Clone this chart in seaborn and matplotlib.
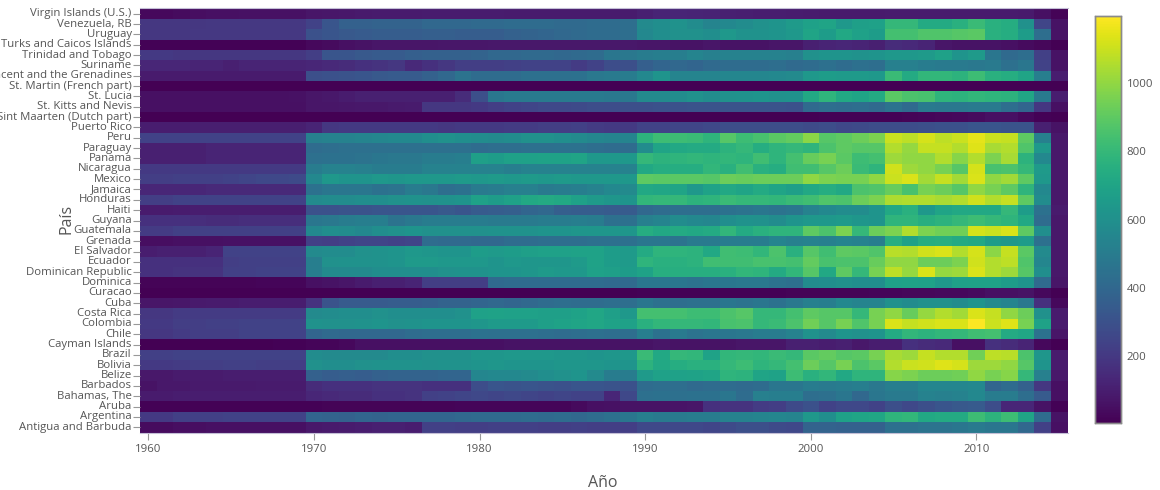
import pandas as pd
import seaborn as sns
import matplotlib.pyplot as plt

years = list(range(1960, 2016))

paises = ["Virgin Islands (U.S.)", "Venezuela, RB", "Uruguay", "Turks and Caicos Islands",
          "Trinidad and Tobago", "Suriname", "St. Vincent and the Grenadines",
          "St. Martin (French part)", "St. Lucia", "St. Kitts and Nevis",
          "Sint Maarten (Dutch part)", "Puerto Rico", "Peru", "Paraguay", "Panama",
          "Nicaragua", "Mexico", "Jamaica", "Honduras", "Haiti", "Guyana", "Guatemala",
          "Grenada", "El Salvador", "Ecuador", "Dominican Republic", "Dominica", "Curacao",
          "Cuba", "Costa Rica", "Colombia", "Chile", "Cayman Islands", "Brazil", "Bolivia",
          "Belize", "Barbados", "Bahamas, The", "Aruba", "Argentina", "Antigua and Barbuda"]

# una fila por pais: 1960-69 / 1970-89 / 1990-2004 / 2005-2015
virgin = [30,30,40,45,50,50,55,55,55,55, 70,75,80,85,90,90,90,95,95,95,95,95,90,90,90,90,90,90,90,90, 110,120,125,120,115,110,105,100,100,95,90,85,85,85,85, 90,90,90,90,90,90,90,90,85,50,15]
venezuela = [190,190,190,190,195,195,195,195,195,195, 240,320,370,370,380,380,380,400,400,400,410,410,420,420,420,410,410,420,420,430, 570,590,610,580,540,560,580,600,620,650,680,700,640,670,680, 800,800,730,730,760,810,760,740,600,250,60]
uruguay = [190,190,190,195,195,195,195,195,195,195, 300,320,330,340,350,350,350,360,360,350,350,350,370,380,390,400,410,420,420,430, 560,590,600,600,590,640,610,610,620,640,700,660,720,680,660, 840,840,870,870,880,890,760,740,660,430,60]
turks = [10,10,10,10,12,12,12,12,12,12, 30,40,50,60,70,70,70,70,75,75,75,80,80,80,80,80,80,80,80,80, 70,70,60,60,70,60,60,60,70,70,110,120,130,120,110, 150,140,120,70,60,60,60,50,40,25,5]
trinidad = [200,200,190,190,190,190,190,190,190,190, 220,320,320,330,340,340,360,370,370,370,380,400,400,410,410,400,410,420,470,480, 500,510,510,540,520,530,530,530,530,520,600,620,620,610,620, 640,640,650,680,620,650,470,410,430,230,60]
suriname = [130,130,130,120,120,110,120,120,120,120, 130,140,150,170,180,190,140,170,190,220,220,220,230,240,240,240,210,240,280,290, 360,390,400,390,410,420,420,420,430,410,420,440,420,440,430, 520,520,500,490,490,480,490,440,470,240,60]
vincent = [90,90,90,90,90,90,90,90,90,90, 290,300,310,320,330,340,340,370,400,460,420,420,420,440,440,440,450,480,490,500, 560,620,540,540,540,550,550,550,560,570,640,660,650,650,640, 810,730,790,790,770,820,760,740,700,510,100]
st_martin = [3,3,3,3,3,3,3,3,3,3, 3,3,3,3,3,3,3,3,3,3, 3,3,3,3,3,3,3,3,3,3, 3,3,3,3,3,3,3,3,3,3,3,3,3,3,3, 3,3,3,3,3,3,3,3,3,3,3]
st_lucia = [50,50,50,50,50,50,50,50,50,55, 70,80,95,110,110,110,110,110,110,150,290,470,490,490,490,490,490,490,480,480, 570,570,580,600,580,600,610,620,600,610,720,780,720,700,730, 890,860,850,780,770,790,780,770,710,490,100]
st_kitts = [50,50,50,50,50,50,50,50,50,50, 70,70,75,80,80,85,90,190,190,190,200,220,240,250,260,260,270,280,280,290, 290,300,300,310,310,310,310,310,310,300,410,430,420,430,410, 460,410,490,480,480,490,490,430,390,190,50]
sint_maarten = [3,3,3,3,3,3,3,3,3,3, 3,3,3,3,3,3,3,3,3,3, 3,3,3,3,3,3,3,3,3,3, 3,3,3,3,3,3,3,3,3,5,5,8,8,8,10, 12,15,20,25,30,40,50,50,30,10,3]
puerto_rico = [100,100,100,105,105,105,105,105,105,105, 120,190,200,200,200,200,200,200,190,200,200,200,210,210,220,220,230,210,200,200, 240,240,250,250,260,280,280,280,280,280,270,280,260,270,280, 280,280,290,300,300,320,320,310,310,110,60]
peru = [240,240,240,240,240,240,240,240,240,240, 520,530,530,540,550,560,560,590,600,590,580,570,580,600,600,590,570,550,540,540, 770,820,820,810,780,880,820,850,890,910,990,880,900,930,960, 1100,1080,1120,1080,1100,1150,1100,1090,900,520,80]
paraguay = [110,110,110,110,120,120,120,120,120,120, 420,430,440,440,440,440,440,440,440,440,420,430,430,440,440,450,450,430,420,420, 580,700,720,730,730,770,800,740,780,800,780,860,900,880,880, 1060,1010,1090,1090,1060,1140,1040,1060,870,640,80]
panama = [110,110,110,110,120,120,120,120,120,120, 440,450,450,460,470,480,480,500,500,510,670,660,680,680,690,690,700,640,640,640, 800,770,780,790,780,790,780,830,780,840,920,950,890,820,840, 1020,1000,1000,1060,980,1060,960,1040,770,560,80]
nicaragua = [200,200,200,200,200,200,200,200,200,200, 500,530,530,520,500,500,500,530,530,530,530,530,510,530,530,530,530,530,530,530, 720,740,740,740,790,760,830,760,740,830,830,880,930,810,780, 1110,1020,1000,950,880,1120,850,860,800,650,80]
mexico = [220,220,230,230,230,240,250,260,260,270, 560,640,620,620,640,630,640,640,640,650,640,650,640,650,640,650,640,640,640,640, 900,890,890,890,880,930,920,930,930,930,1000,960,950,950,1000, 1100,1130,1030,1090,1030,1130,1000,1030,900,640,80]
jamaica = [130,130,130,130,140,140,140,140,140,140, 450,470,470,470,450,460,500,480,430,450,490,500,520,520,490,500,510,530,560,570, 720,710,700,640,690,720,700,730,700,670,720,740,720,860,870, 920,850,950,930,880,1000,950,900,780,560,80]
honduras = [220,220,240,240,240,240,240,240,240,240, 570,580,580,590,590,600,610,600,610,620,680,660,680,720,730,720,680,650,630,620, 790,800,800,770,780,810,800,800,790,810,830,870,860,930,960, 1050,1060,1060,1040,1060,1110,1060,1090,900,580,80]
haiti = [90,90,95,100,100,100,100,100,100,100, 300,300,310,310,320,320,320,320,330,320,340,350,360,390,400,360,350,350,340,340, 400,420,430,430,430,450,460,470,460,470,530,560,580,580,620, 720,760,640,700,720,720,720,800,660,450,90]
guyana = [170,170,170,160,150,150,160,160,160,160, 470,480,500,510,510,460,480,500,500,500,500,490,490,490,500,500,510,500,440,440, 520,540,580,560,550,590,610,600,580,620,640,640,650,630,620, 780,780,750,770,800,820,800,780,720,420,80]
guatemala = [210,210,230,230,230,230,230,230,230,230, 560,590,580,560,590,600,620,600,600,600,600,610,610,610,620,620,630,630,630,630, 740,720,730,720,730,790,730,760,780,780,900,860,960,800,930, 960,1060,960,940,940,1120,1100,1130,900,590,80]
grenada = [45,45,50,50,50,55,55,55,55,55, 230,220,240,250,250,240,250,420,410,410,400,400,420,420,430,430,430,440,440,440, 470,470,460,490,490,500,500,500,540,520,530,520,540,530,510, 750,680,740,750,730,720,660,640,660,440,80]
el_salvador = [100,110,110,110,120,240,240,240,240,240, 570,580,580,600,610,620,640,630,620,620,660,650,660,670,680,680,690,690,660,650, 730,780,780,770,720,830,820,790,860,760,880,830,900,890,870, 1070,1060,1110,1130,1060,1120,990,1090,890,570,80]
ecuador = [170,170,170,170,170,220,230,230,230,230, 510,600,610,610,610,620,650,650,640,640,640,620,640,630,630,630,650,690,660,650, 780,760,760,770,830,830,830,850,850,840,910,850,860,860,920, 1000,1000,930,930,960,1110,1060,1080,870,550,80]
dominican = [170,170,180,180,180,230,230,240,240,240, 510,570,570,570,590,590,590,590,600,610,610,620,620,630,650,640,640,680,670,660, 690,750,750,750,750,760,790,780,730,790,880,720,900,800,950, 1080,1010,1130,1010,1020,1130,1060,1020,880,590,80]
dominica = [15,15,15,15,15,15,15,20,20,20, 50,60,70,90,110,110,120,220,220,220,220,410,420,420,420,420,420,420,410,410, 470,470,470,460,470,470,480,480,460,440,580,590,600,590,590, 680,690,680,640,680,690,690,660,620,410,70]
curacao = [3,3,3,3,3,3,3,3,3,3, 3,3,3,3,3,3,3,3,3,3, 3,3,3,3,3,3,3,3,3,3, 8,8,8,8,8,8,8,10,10,15,15,15,15,15,20, 20,25,25,30,30,40,50,50,60,30,5]
cuba = [70,70,75,85,90,90,100,100,100,100, 180,310,340,340,340,350,350,360,380,380,390,400,390,400,420,430,420,420,430,430, 470,440,430,440,440,470,460,470,450,480,520,510,560,540,540, 600,580,600,600,580,620,570,540,480,170,30]
costa_rica = [190,190,210,210,210,210,210,210,210,210, 570,580,590,590,600,590,590,590,590,600,680,690,680,680,670,670,690,710,670,640, 840,840,840,820,820,860,880,800,800,840,900,880,880,800,950, 1000,920,1010,1060,1030,1130,1090,1000,930,600,90]
colombia = [200,200,220,220,230,230,240,240,240,240, 610,600,600,610,620,600,610,620,620,620,630,650,650,650,670,690,700,710,690,680, 760,790,800,800,790,850,860,800,810,860,940,880,950,870,950, 1130,1090,1110,1130,1130,1190,1100,1140,950,690,90]
chile = [190,190,210,220,220,220,240,240,240,240, 390,410,400,400,400,400,420,430,430,430,450,440,440,440,430,420,430,440,430,430, 510,450,490,460,470,470,480,500,500,530,610,570,620,600,620, 730,790,770,790,800,830,840,730,710,450,70]
cayman = [5,5,5,5,5,5,5,5,10,10, 20,20,30,50,50,50,50,50,50,50,50,50,60,60,60,60,60,60,60,60, 60,70,60,60,60,60,70,70,70,110,110,100,110,80,100, 100,170,150,140,50,50,170,150,120,30,5]
brazil = [230,230,240,240,240,240,240,240,240,240, 580,570,570,570,570,590,590,600,600,600,630,630,640,640,640,630,630,620,630,640, 810,720,800,790,690,790,800,790,810,800,890,910,880,890,950, 1040,1020,1090,1060,1060,940,1080,1070,860,630,90]
bolivia = [200,200,210,220,220,230,230,220,220,220, 600,590,590,600,610,610,610,600,610,610,620,630,620,620,620,630,630,630,620,620, 770,720,740,760,760,800,820,780,800,840,930,880,950,860,890, 1060,1100,1110,1140,1120,1020,1020,1000,880,620,90]
belize = [80,80,90,90,90,100,100,100,100,100, 370,350,360,350,370,380,380,380,390,390,550,560,560,570,590,600,620,570,500,500, 650,680,680,690,700,780,770,700,690,820,760,790,720,780,780, 980,960,930,930,940,1000,950,980,800,520,80]
barbados = [60,80,80,85,85,85,85,90,90,90, 150,170,170,170,180,180,180,170,170,170,280,320,310,320,310,300,320,320,310,300, 420,430,430,410,420,420,410,420,470,470,500,490,500,510,480, 510,510,550,550,550,560,390,420,370,190,50]
bahamas = [90,90,100,100,100,100,100,100,100,100, 130,140,150,150,170,170,180,230,240,250,260,250,260,250,240,250,240,240,130,260, 440,450,440,450,450,470,420,520,510,510,430,440,470,400,470, 490,490,530,520,530,560,500,500,430,340,50]
aruba = [8,8,8,8,10,10,10,10,10,10, 12,14,14,14,15,15,15,15,15,18,20,20,20,20,20,20,35,50,55,60, 60,60,65,70,170,180,180,210,220,270,300,240,260,260,240, 290,260,290,320,330,340,280,130,130,60,10]
argentina = [200,200,230,230,230,240,240,240,240,240, 390,380,370,390,380,390,390,390,390,400,410,410,410,420,410,420,400,420,440,470, 510,490,490,500,500,530,530,540,550,540,640,590,680,700,710, 780,790,720,730,730,820,770,820,700,420,60]
antigua = [40,40,45,45,50,50,50,50,50,50, 80,85,90,100,110,110,100,230,230,220,220,230,230,230,220,220,230,220,220,220, 260,260,260,260,250,270,290,290,270,260,380,380,370,370,370, 440,440,460,460,470,490,470,470,400,230,50]

filas = [virgin, venezuela, uruguay, turks, trinidad, suriname, vincent, st_martin, st_lucia,
         st_kitts, sint_maarten, puerto_rico, peru, paraguay, panama, nicaragua, mexico, jamaica,
         honduras, haiti, guyana, guatemala, grenada, el_salvador, ecuador, dominican, dominica,
         curacao, cuba, costa_rica, colombia, chile, cayman, brazil, bolivia, belize, barbados,
         bahamas, aruba, argentina, antigua]

df = pd.DataFrame(filas, index=paises, columns=years)

gris = "#555555"
plt.rcParams['font.family'] = ['Open Sans', 'DejaVu Sans']

fig = plt.figure(figsize=(11.6, 4.9), dpi=100)
ax = fig.add_axes([140 / 1160, 1 - 432.5 / 490, 927.5 / 1160, 424 / 490])
cax = fig.add_axes([1095 / 1160, 1 - 423 / 490, 26 / 1160, 407 / 490])

sns.heatmap(df, ax=ax, cbar_ax=cax, cmap="viridis", vmin=3, vmax=1197,
            xticklabels=False, yticklabels=True,
            cbar_kws={"ticks": [200, 400, 600, 800, 1000]})

ax.set_xticks([y - 1960 + 0.5 for y in range(1960, 2011, 10)])
ax.set_xticklabels([str(y) for y in range(1960, 2011, 10)], rotation=0)
ax.tick_params(axis='x', length=5, width=0.8, color="#999999", labelcolor=gris, labelsize=8.2, pad=3)
ax.tick_params(axis='y', length=5, width=0.8, color="#999999", labelcolor=gris, labelsize=8.2, pad=1)
plt.setp(ax.get_yticklabels(), rotation=0)
ax.set_xlabel("")
ax.set_ylabel("")

for s in ['bottom', 'top']:
    ax.spines[s].set_visible(True)
    ax.spines[s].set_color("#c4bfd6")
    ax.spines[s].set_linewidth(0.8)

fig.text(603 / 1160, 1 - 483 / 490, "Año", ha='center', va='center', fontsize=11.5, color=gris)
fig.text(67 / 1160, 1 - 219 / 490, "País", ha='center', va='center', rotation=90, fontsize=11.5, color=gris)

cax.tick_params(length=0, labelcolor=gris, labelsize=8.2, pad=4)
cax.spines[:].set_visible(True)
cax.spines[:].set_color("#8a8a8a")
cax.spines[:].set_linewidth(1)

fig.savefig("out.png", dpi=100)
